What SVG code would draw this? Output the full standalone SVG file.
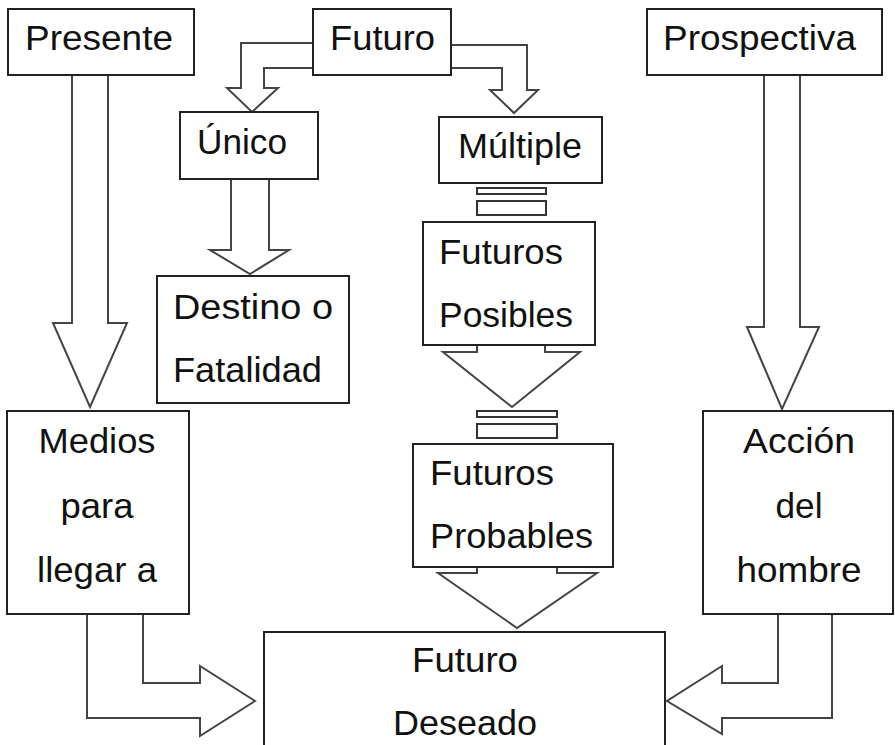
<svg xmlns="http://www.w3.org/2000/svg" width="895" height="745" viewBox="0 0 895 745">
<style>
.box{fill:#fff;stroke:#222;stroke-width:2}
.arr{fill:#fff;stroke:#444;stroke-width:2;stroke-linejoin:miter}
.bar{fill:#fff;stroke:#333;stroke-width:2}
text{font-family:"Liberation Sans",Arial,sans-serif;font-size:35px;fill:#111}
.c{text-anchor:middle}
</style>
<rect width="895" height="745" fill="#fff"/>
<g id="connectors">
<path class="arr" d="M72,75 V323 H53 L90,407 L127,323 H108 V75"/>
<path class="arr" d="M764,75 V327 H747 L782,409 L819,327 H800 V75"/>
<path class="arr" d="M313,43 H241 V88 H227 L252,112 L278,88 H264 V68 H313"/>
<path class="arr" d="M451,45 H527 V90 H538 L514,113 L490,90 H502 V68 H451"/>
<path class="arr" d="M231,179 V250 H210 L250,274 L289,250 H269 V179"/>
<rect class="bar" x="477" y="188" width="69" height="6"/>
<rect class="bar" x="477" y="201" width="69" height="14"/>
<path class="arr" d="M477,345 V352 H443 L512,407 L580,352 H545 V345"/>
<rect class="bar" x="477" y="411" width="80" height="6"/>
<rect class="bar" x="477" y="424" width="80" height="14"/>
<path class="arr" d="M477,567 V573 H438 L517,628 L597,573 H557 V567"/>
<path class="arr" d="M87,614 V718 H200 V736 L255,701 L200,666 V683 H143 V614"/>
<path class="arr" d="M832,614 V718 H722 V734 L667,701 L722,666 V683 H778 V614"/>
</g>
<g id="presente"><rect class="box" x="8" y="9" width="186" height="66"/><text x="25" y="50" textLength="148" lengthAdjust="spacingAndGlyphs">Presente</text></g>
<g id="futuro"><rect class="box" x="313" y="9" width="138" height="66"/><text x="330" y="50" textLength="105" lengthAdjust="spacingAndGlyphs">Futuro</text></g>
<g id="prospectiva"><rect class="box" x="647" y="9" width="235" height="66"/><text x="663" y="50" textLength="193" lengthAdjust="spacingAndGlyphs">Prospectiva</text></g>
<g id="unico"><rect class="box" x="180" y="112" width="138" height="67"/><text x="197" y="154" textLength="90" lengthAdjust="spacingAndGlyphs">Único</text></g>
<g id="multiple"><rect class="box" x="439" y="117" width="163" height="66"/><text x="458" y="158" textLength="124" lengthAdjust="spacingAndGlyphs">Múltiple</text></g>
<g id="destino"><rect class="box" x="157" y="276" width="192" height="127"/><text x="173" y="319" textLength="160" lengthAdjust="spacingAndGlyphs">Destino  o</text><text x="173" y="382" textLength="149" lengthAdjust="spacingAndGlyphs">Fatalidad</text></g>
<g id="posibles"><rect class="box" x="423" y="222" width="172" height="123"/><text x="439" y="264" textLength="124" lengthAdjust="spacingAndGlyphs">Futuros</text><text x="439" y="327" textLength="134" lengthAdjust="spacingAndGlyphs">Posibles</text></g>
<g id="probables"><rect class="box" x="413" y="444" width="200" height="123"/><text x="430" y="485" textLength="124" lengthAdjust="spacingAndGlyphs">Futuros</text><text x="430" y="548" textLength="163" lengthAdjust="spacingAndGlyphs">Probables</text></g>
<g id="medios"><rect class="box" x="7" y="411" width="182" height="203"/><text class="c" x="97" y="453" textLength="117" lengthAdjust="spacingAndGlyphs">Medios</text><text class="c" x="97" y="518" textLength="73" lengthAdjust="spacingAndGlyphs">para</text><text class="c" x="97" y="582" textLength="120" lengthAdjust="spacingAndGlyphs">llegar  a</text></g>
<g id="accion"><rect class="box" x="703" y="411" width="190" height="203"/><text class="c" x="799" y="453" textLength="112" lengthAdjust="spacingAndGlyphs">Acción</text><text class="c" x="799" y="518" textLength="47" lengthAdjust="spacingAndGlyphs">del</text><text class="c" x="799" y="582" textLength="125" lengthAdjust="spacingAndGlyphs">hombre</text></g>
<g id="deseado"><rect class="box" x="264" y="632" width="401" height="130"/><text x="412" y="672" textLength="106" lengthAdjust="spacingAndGlyphs">Futuro</text><text x="393" y="735" textLength="144" lengthAdjust="spacingAndGlyphs">Deseado</text></g>
</svg>
